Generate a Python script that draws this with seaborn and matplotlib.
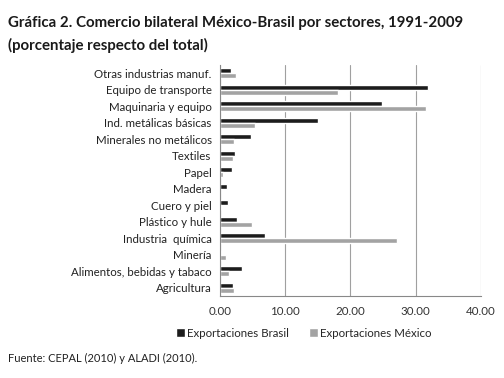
import pandas as pd
import numpy as np
import seaborn as sns
import matplotlib.pyplot as plt
from matplotlib.ticker import FixedLocator

sectores = ["Otras industrias manuf.", "Equipo de transporte", "Maquinaria y equipo",
            "Ind. metálicas básicas", "Minerales no metálicos", "Textiles", "Papel",
            "Madera", "Cuero y piel", "Plástico y hule", "Industria  química",
            "Minería", "Alimentos, bebidas y tabaco", "Agricultura"]
brasil = [1.7, 31.9, 24.8, 15.0, 4.7, 2.3, 1.9, 1.0, 1.2, 2.6, 6.9, 0.2, 3.3, 2.0]
mexico = [2.5, 18.1, 31.6, 5.3, 2.1, 2.0, 0.4, 0.05, 0.1, 4.9, 27.2, 0.85, 1.45, 2.2]
series = ["Exportaciones Brasil", "Exportaciones México"]
xticks = [0, 10, 20, 30, 40]

df = pd.DataFrame({
    "sector": sectores * 2,
    "valor": brasil + mexico,
    "serie": [series[0]] * len(sectores) + [series[1]] * len(sectores),
})

sns.set_style("white")
plt.rcParams['font.family'] = ['Lato', 'DejaVu Sans']

fig, ax = plt.subplots(figsize=(5.04, 3.78), dpi=100)
fig.subplots_adjust(left=0.4365, right=0.954, top=0.828, bottom=0.217)

sns.barplot(data=df, y="sector", x="valor", hue="serie", orient="h",
            palette=["#1c1c1c", "#a3a3a3"], width=0.62, ax=ax, legend=True,
            saturation=1)

ax.set_xlim(0, 40)
ax.set_xticks(xticks)
ax.set_xticklabels([f"{t:.2f}" for t in xticks], fontsize=8.3, color="#333333")
ax.set_ylim(len(sectores) - 0.5, -0.5)
ax.tick_params(axis="y", length=0, labelsize=8.3, labelcolor="#222222", pad=6)
ax.yaxis.set_minor_locator(FixedLocator(np.arange(-0.5, len(sectores), 1)))
ax.tick_params(axis="y", which="minor", length=4, color="#888888", direction="out")
ax.tick_params(axis="x", length=4, color="#888888", direction="out", pad=3)
ax.set_xlabel("")
ax.set_ylabel("")
ax.grid(axis="x", color="#a0a0a0", linewidth=0.8)
ax.set_axisbelow(True)
for side in ["top", "right"]:
    ax.spines[side].set_visible(False)
for side in ["left", "bottom"]:
    ax.spines[side].set_color("#888888")
    ax.spines[side].set_linewidth(0.8)

handles, labels = ax.get_legend_handles_labels()
ax.get_legend().remove()
fig.legend(handles, labels, loc="center", bbox_to_anchor=(0.603, 0.119), ncol=2,
           frameon=False, fontsize=8.3, handlelength=0.7, handleheight=0.7,
           handletextpad=0.2, columnspacing=1.8)

fig.text(0.016, 0.94, "Gráfica 2. Comercio bilateral México-Brasil por sectores, 1991-2009",
         fontsize=10.8, fontweight="bold", color="#1a1a1a", va="center")
fig.text(0.016, 0.88, "(porcentaje respecto del total)",
         fontsize=10.8, fontweight="bold", color="#1a1a1a", va="center")
fig.text(0.016, 0.052, "Fuente: CEPAL (2010) y ALADI (2010).", fontsize=8,
         color="#222222", va="center")

fig.savefig("out.png", dpi=100)
